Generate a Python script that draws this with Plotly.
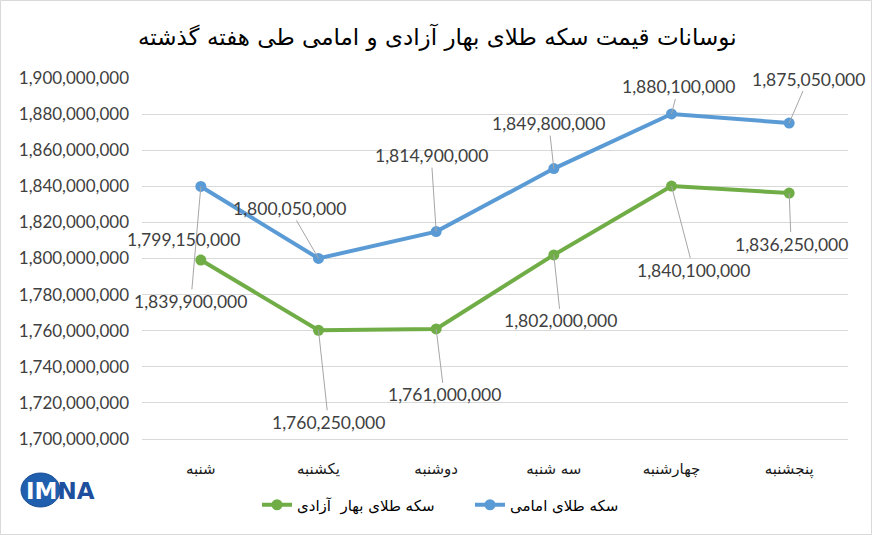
import plotly.graph_objects as go

# ---- data ----
days = ["شنبه", "یکشنبه", "دوشنبه", "سه شنبه", "چهارشنبه", "پنجشنبه"]
emami = [1839900000, 1800050000, 1814900000, 1849800000, 1880100000, 1875050000]
bahar = [1799150000, 1760250000, 1761000000, 1802000000, 1840100000, 1836250000]
name_emami = "سکه طلای امامی"
name_bahar = "سکه طلای بهار  آزادی"
title_text = "نوسانات قیمت سکه طلای بهار آزادی و امامی طی هفته گذشته"

# label placement (pixel offsets of label centre from its point)
emami_off = [(-10, 115), (-29, -50), (-5, -76), (-5, -45), (7, -27), (19, -44)]
bahar_off = [(-17, -21), (10, 92), (8, 66), (7, 66), (22, 84), (2, 51)]
bahar_arrow = [False, True, True, True, True, True]

BLUE = "#5B9BD5"
GREEN = "#70AD47"
GRID = "#D9D9D9"
TXT = "#404040"
NUMFONT = "Lato, Carlito, Liberation Sans, sans-serif"
ARFONT = "DejaVu Sans, sans-serif"

W, H = 872, 535
ML, MR, MT, MB = 142, 24, 78, 96
PW, PH = W - ML - MR, H - MT - MB


def px(x):
    return (x - ML) / PW


def py(y):
    return (H - MB - y) / PH


fig = go.Figure()
fig.add_trace(go.Scatter(
    x=days, y=bahar, name=name_bahar, mode="lines+markers",
    line=dict(color=GREEN, width=4), marker=dict(size=11, color=GREEN)))
fig.add_trace(go.Scatter(
    x=days, y=emami, name=name_emami, mode="lines+markers",
    line=dict(color=BLUE, width=4), marker=dict(size=11, color=BLUE)))

annotations = []
for d, v, (ox, oy) in zip(days, emami, emami_off):
    annotations.append(dict(
        x=d, y=v, text=f"{v:,}", showarrow=True, arrowhead=0, arrowwidth=1,
        arrowcolor="#A6A6A6", ax=ox, ay=oy, standoff=0,
        font=dict(family=NUMFONT, size=17.5, color=TXT)))
for d, v, (ox, oy), arr in zip(days, bahar, bahar_off, bahar_arrow):
    if arr:
        annotations.append(dict(
            x=d, y=v, text=f"{v:,}", showarrow=True, arrowhead=0, arrowwidth=1,
            arrowcolor="#A6A6A6", ax=ox, ay=oy, standoff=0,
            font=dict(family=NUMFONT, size=17.5, color=TXT)))
    else:
        annotations.append(dict(
            x=d, y=v, text=f"{v:,}", showarrow=False, xshift=ox, yshift=-oy,
            font=dict(family=NUMFONT, size=17.5, color=TXT)))

# title
annotations.append(dict(
    xref="paper", yref="paper", x=px(437), y=py(37), text=title_text,
    showarrow=False, xanchor="center", yanchor="middle",
    font=dict(family=ARFONT, size=23, color="#000000")))

# logo text
annotations.append(dict(
    xref="paper", yref="paper", x=px(24), y=py(491),
    text="<span style='color:#ffffff'>IM</span><span style='color:#1d4f9e'>NA</span>",
    showarrow=False, xanchor="left", yanchor="middle",
    font=dict(family="DejaVu Sans, sans-serif", size=23, color="#1d4f9e", weight="bold")))

shapes = [
    dict(type="rect", xref="paper", yref="paper",
         x0=px(0.5), x1=px(871.5), y0=py(534.5), y1=py(0.5),
         line=dict(color=GRID, width=1), fillcolor="rgba(0,0,0,0)", layer="below"),
    dict(type="circle", xref="paper", yref="paper",
         x0=px(21), x1=px(60), y0=py(507), y1=py(473),
         line=dict(color="#1a4e96", width=1), fillcolor="#1f5fae", layer="below"),
]

fig.update_layout(
    width=W, height=H,
    margin=dict(l=ML, r=MR, t=MT, b=MB),
    paper_bgcolor="white", plot_bgcolor="white",
    showlegend=True,
    legend=dict(orientation="h", x=px(257), y=py(505), xanchor="left",
                yanchor="middle", font=dict(family=ARFONT, size=15, color="#000000"),
                entrywidth=168, entrywidthmode="pixels",
                bgcolor="rgba(0,0,0,0)"),
    annotations=annotations,
    shapes=shapes,
    xaxis=dict(type="category", range=[-0.5, 5.5], showgrid=False,
               showline=True, linecolor=GRID, linewidth=1,
               ticks="", ticklabelstandoff=16,
               tickfont=dict(family=ARFONT, size=15, color="#1a1a1a")),
    yaxis=dict(range=[1700000000, 1900000000], dtick=20000000,
               tickformat=",d", showgrid=True, gridcolor=GRID, gridwidth=1,
               zeroline=False, showline=False, ticks="", ticklabelstandoff=12,
               tickfont=dict(family=NUMFONT, size=17, color=TXT)),
)

fig.write_html("out.html")
